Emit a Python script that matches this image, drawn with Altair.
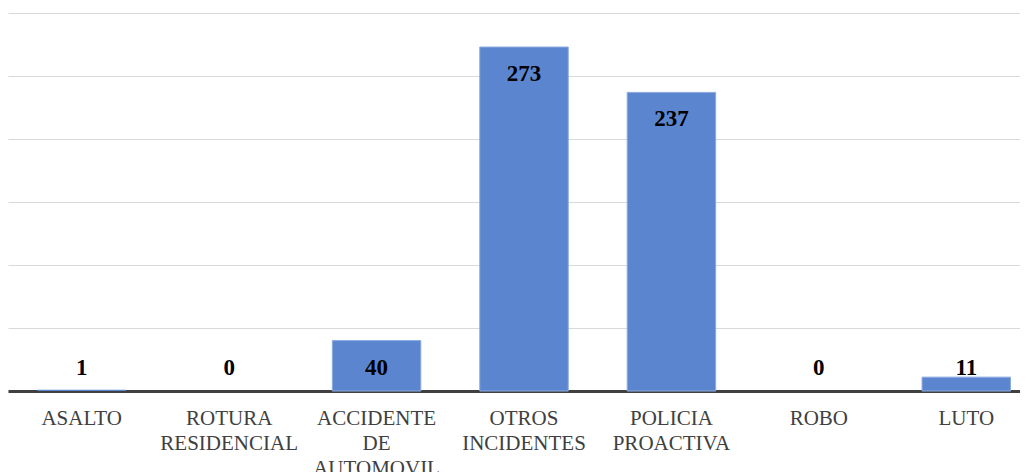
import altair as alt
import pandas as pd

categories = ["ASALTO", "ROTURA RESIDENCIAL", "ACCIDENTE DE AUTOMOVIL",
              "OTROS INCIDENTES", "POLICIA PROACTIVA", "ROBO", "LUTO"]
values = [1, 0, 40, 273, 237, 0, 11]

df = pd.DataFrame({"categoria": categories, "valor": values})

SERIF = "Liberation Serif, Times New Roman, Times, serif"

x_scale = alt.Scale(paddingInner=0.4, paddingOuter=0.2, range=[0, 1032])

x = alt.X("categoria:N", sort=categories, title=None, scale=x_scale,
          axis=alt.Axis(labelAngle=0, labelFont=SERIF, labelFontSize=21,
                        labelColor="#404040", labelExpr="split(datum.label, ' ')",
                        labelLineHeight=25, labelPadding=16, ticks=False,
                        domainColor="#404040", domainWidth=3, grid=False))

y_scale = alt.Scale(domain=[0, 300], nice=False)

bars = alt.Chart(df).mark_bar(color="#5B86CF", stroke="#8CAAE0", strokeWidth=1).encode(
    x=x,
    y=alt.Y("valor:Q", scale=y_scale, title=None,
            axis=alt.Axis(values=[0, 50, 100, 150, 200, 250, 300], labels=False,
                          ticks=False, domain=False, gridColor="#D9D9D9", gridWidth=1.2)),
    strokeOpacity=alt.condition("datum.valor > 1", alt.value(1), alt.value(0)),
)

text = alt.Chart(df).transform_calculate(
    pos="max(datum.valor - 21.5, 18.3)"
).mark_text(font=SERIF, fontSize=23, fontWeight="bold", color="#000000",
            baseline="middle").encode(
    x=alt.X("categoria:N", sort=categories, scale=x_scale),
    y=alt.Y("pos:Q", scale=y_scale),
    text="valor:Q",
)

chart = alt.layer(bars, text).properties(
    width=1012, height=378,
    autosize=alt.AutoSizeParams(type="none"),
    padding={"left": 0, "top": 5, "right": 0, "bottom": 85},
).configure_view(stroke=None).configure_axisX(grid=False)

chart.save("out.html", embed_options={"renderer": "svg", "actions": False})
